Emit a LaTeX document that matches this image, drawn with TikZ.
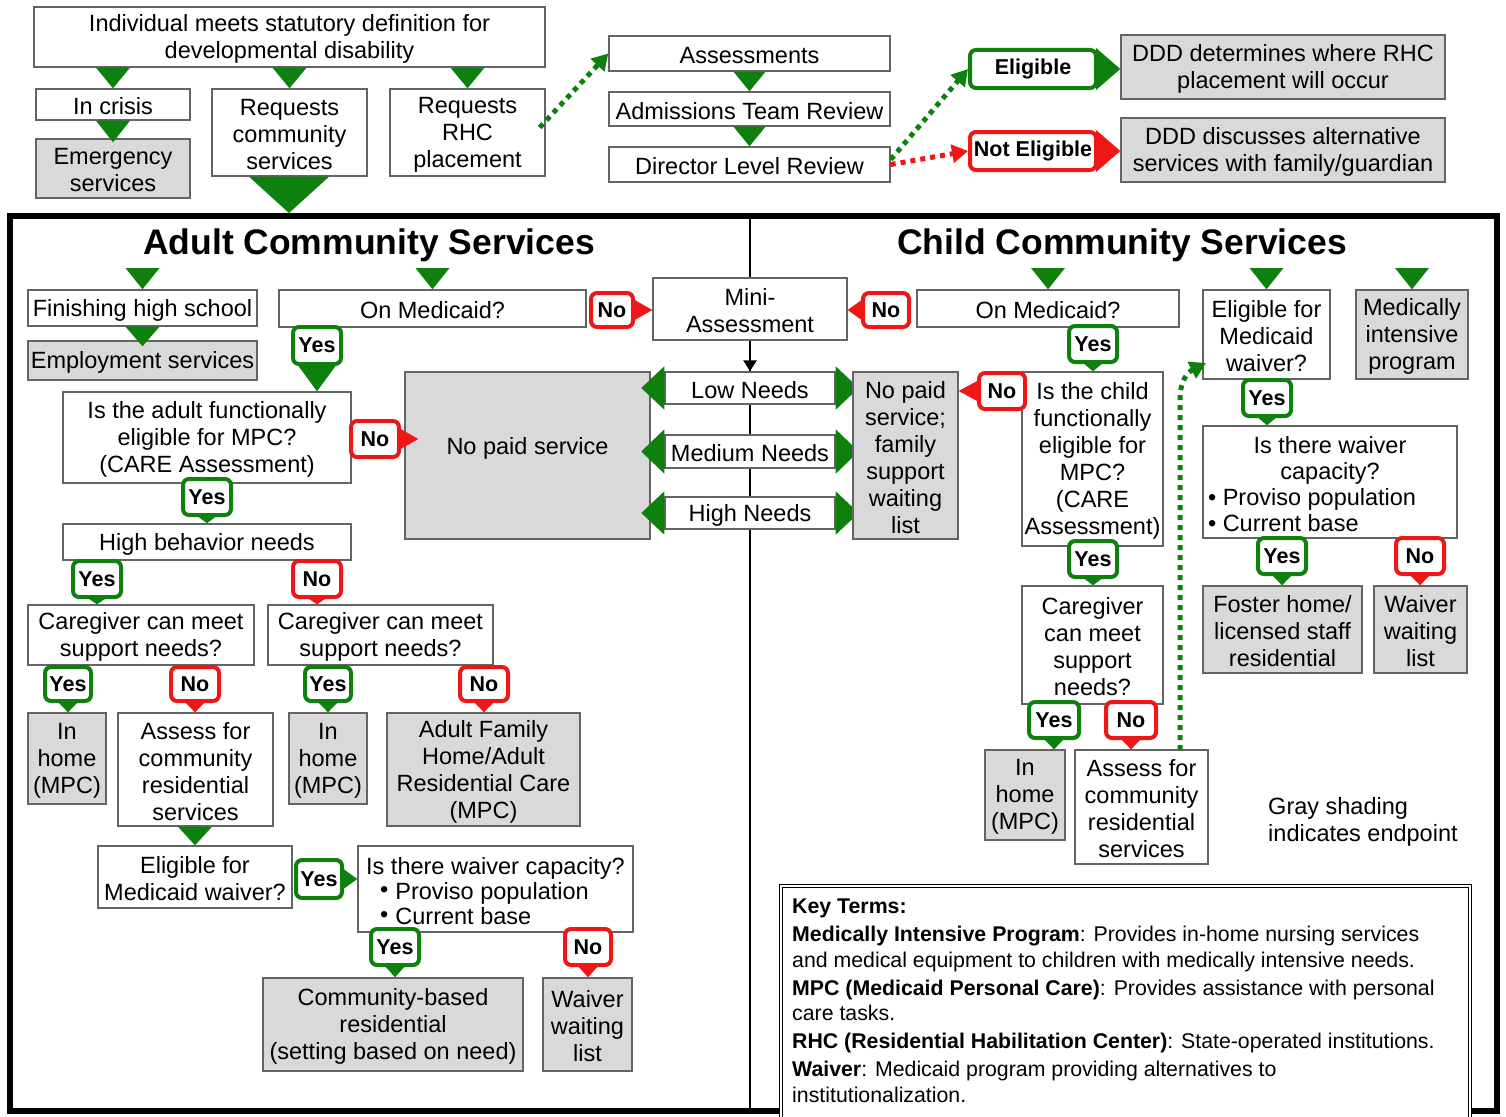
\documentclass[tikz,border=0pt]{standalone}
\usepackage{fontspec}
\setmainfont{Liberation Sans}
\usetikzlibrary{calc,arrows.meta}
\definecolor{gr}{RGB}{14,128,14}
\definecolor{rd}{RGB}{238,22,22}
\definecolor{shade}{RGB}{217,217,217}
\definecolor{bord}{RGB}{100,100,100}
\newcommand\fs{\fontsize{23.5}{27}\selectfont}
\newcommand\tagf{\bfseries\fontsize{21.5}{24}\selectfont}
\newcommand\ttlf{\bfseries\fontsize{35.5}{40}\selectfont}
\newcommand\kf{\fontsize{21.3}{25.5}\selectfont}
% box from corners (frame node + text node set slightly lower)
\newcommand\bx[7][]{\node[box,minimum width={#5-#3},minimum height={#6-#4},#1] (#2) at ({(#3+#5)/2},{(#4+#6)/2}) {};
 \node[box,#1,draw=none,fill=none,inner sep=0pt] (#2-t) at ($(#2.center)+(0,2)$) {#7};}
% tag from corners
\newcommand\tg[7][]{\node[box,minimum width={#5-#3},minimum height={#6-#4},#1] (#2) at ({(#3+#5)/2},{(#4+#6)/2}) {#7};}
% tag pointers: colour, tag, target, half width
\newcommand\pD[4]{\fill[#1] let \p1=(#2.south), \p2=(#3) in (\x1-#4,\y1+2pt) -- (\x1+#4,\y1+2pt) -- (\x1,\y2) -- cycle;}
\newcommand\pR[4]{\fill[#1] let \p1=(#2.east), \p2=(#3) in (\x1-2pt,\y1+#4) -- (\x1-2pt,\y1-#4) -- (\x2,\y1) -- cycle;}
\newcommand\pL[4]{\fill[#1] let \p1=(#2.west), \p2=(#3) in (\x1+2pt,\y1+#4) -- (\x1+2pt,\y1-#4) -- (\x2,\y1) -- cycle;}
% green down triangle: source (top y), target (tip), half width
\newcommand\dT[3]{\fill[gr] let \p1=(#1), \p2=(#2) in (\x2-#3,\y1) -- (\x2+#3,\y1) -- (\x2,\y2) -- cycle;}
% side triangles on needs boxes
\newcommand\sT[1]{%
 \fill[gr] let \p1=(#1.north west), \p2=(#1.south west) in (\x1,\y1+5pt) -- (\x1,\y2-5pt) -- (\x1-23pt,{0.5*\y1+0.5*\y2}) -- cycle;
 \fill[gr] let \p1=(#1.north east), \p2=(#1.south east) in (\x1,\y1+5pt) -- (\x1,\y2-5pt) -- (\x1+23pt,{0.5*\y1+0.5*\y2}) -- cycle;}
\begin{document}
\begin{tikzpicture}[x=1pt,y=-1pt,
 box/.style={draw=bord,line width=1.4pt,fill=white,align=center,inner sep=1pt,font=\fs},
 endbox/.style={fill=shade},
 ytag/.style={draw=gr,line width=4pt,rounded corners=6pt,fill=white,font=\tagf,inner sep=0pt},
 ntag/.style={ytag,draw=rd},
 dotg/.style={draw=gr,line width=5pt,dash pattern=on 5pt off 5pt,-{Triangle[length=16pt,width=18pt]}},
 dotr/.style={dotg,draw=rd}]
\useasboundingbox (0,0) rectangle (1506,1116);
\fill[white] (0,0) rectangle (1506,1116);
% frame
\draw[line width=6pt] (10,216) rectangle (1497,1111);
\draw[line width=2.5pt] (750,216) -- (750,1111);
% ---------- top ----------
\bx{top}{34}{7}{545}{67}{Individual meets statutory definition for\\developmental disability}
\bx{crisis}{36}{89}{190}{120}{In crisis}
\bx[endbox]{emerg}{36}{139}{190}{198}{Emergency\\services}
\bx{reqcom}{212}{89}{367}{176}{Requests\\community\\services}
\bx{reqrhc}{390}{89}{545}{176}{Requests\\RHC\\placement}
\bx{assess}{609}{36}{890}{71}{Assessments}
\bx{admit}{609}{92}{890}{126}{Admissions Team Review}
\bx{director}{609}{147}{890}{182}{Director Level Review}
\bx[endbox]{ddda}{1121}{35}{1445}{99}{DDD determines where RHC\\placement will occur}
\bx[endbox]{dddb}{1121}{118}{1445}{182}{DDD discusses alternative\\services with family/guardian}
\tg[ytag]{elig}{970}{50}{1096}{88}{Eligible}
\tg[ntag]{nelig}{970}{132}{1096}{170}{Not Eligible}
\pR{gr}{elig}{ddda.west}{21pt}
\pR{rd}{nelig}{dddb.west}{21pt}
\dT{top.south}{crisis.north}{17pt}
\dT{top.south}{reqcom.north}{17pt}
\dT{top.south}{reqrhc.north}{17pt}
\dT{crisis.south}{$(emerg.north)+(0,4)$}{17pt}
\coordinate (ftop) at (289,213);
\dT{reqcom.south}{ftop}{40pt}
\dT{assess.south}{admit.north}{16pt}
\dT{admit.south}{director.north}{16pt}
\draw[dotg] ($(reqrhc.east)+(-6,-5)$) -- (assess.west);
\draw[dotg] ($(director.east)+(0,-5)$) -- (elig.west);
\draw[dotr] (director.east) -- (nelig.west);
% ---------- titles ----------
\node[font=\ttlf] (atitle) at (369,245) {Adult Community Services};
\node[font=\ttlf] (ctitle) at (1122,245) {Child Community Services};
\coordinate (hdr) at (0,268);
% ---------- adult ----------
\bx{fhs}{28}{290}{257}{326}{Finishing high school}
\bx[endbox]{emp}{28}{341}{257}{380}{Employment services}
\bx{amed}{279}{290}{586}{327}{On Medicaid?}
\bx{mini}{653}{278}{847}{340}{Mini-\\Assessment}
\tg[ntag]{tA1}{591}{293}{633}{327}{No}
\tg[ytag]{tA2}{293}{327}{341}{364}{Yes}
\bx{aelig}{63}{392}{351}{483}{Is the adult functionally\\eligible for MPC?\\(CARE Assessment)}
\node[box,endbox,minimum width=245,minimum height=167] (nps) at (527.5,455.5) {};
\node[font=\fs,inner sep=0pt] (nps-t) at (527.5,448) {No paid service};
\tg[ntag]{tA3}{351}{421}{399}{457}{No}
\bx{low}{665}{372}{835}{404}{Low Needs}
\bx{med}{665}{435}{835}{468}{Medium Needs}
\bx{high}{665}{497}{835}{529}{High Needs}
\tg[ytag]{tA4}{183}{479}{231}{515}{Yes}
\bx{hbn}{63}{524}{351}{560}{High behavior needs}
\tg[ytag]{tA5}{73}{561}{121}{597}{Yes}
\tg[ntag]{tA6}{293}{561}{341}{597}{No}
\bx{cga}{28}{605}{254}{665}{Caregiver can meet\\support needs?}
\bx{cgb}{268}{605}{493}{665}{Caregiver can meet\\support needs?}
\tg[ytag]{tA7}{45}{667}{91}{701}{Yes}
\tg[ntag]{tA8}{171}{667}{219}{701}{No}
\tg[ytag]{tA9}{305}{667}{351}{701}{Yes}
\tg[ntag]{tA10}{460}{667}{508}{701}{No}
\bx[endbox]{iha}{28}{713}{106}{804}{In\\home\\(MPC)}
\bx{acra}{118}{713}{273}{826}{Assess for\\community\\residential\\services}
\bx[endbox]{ihb}{289}{713}{367}{804}{In\\home\\(MPC)}
\bx[endbox]{afh}{387}{713}{580}{826}{Adult Family\\Home/Adult\\Residential Care\\(MPC)}
\bx{emwa}{98}{846}{292}{908}{Eligible for\\Medicaid waiver?}
\tg[ytag]{tA11}{296}{860}{342}{898}{Yes}
\bx[align=left,font=\fontsize{23.5}{25}\selectfont]{wcapa}{358}{846}{633}{932}{Is there waiver capacity?\\\hspace*{14pt}\raisebox{2pt}{\textbullet}\hspace{7pt}Proviso population\\\hspace*{14pt}\raisebox{2pt}{\textbullet}\hspace{7pt}Current base}
\tg[ytag]{tA12}{371}{929}{419}{965}{Yes}
\tg[ntag]{tA13}{565}{929}{611}{965}{No}
\bx[endbox]{cbr}{263}{978}{523}{1071}{Community-based\\residential\\(setting based on need)}
\bx[endbox]{wwla}{543}{978}{632}{1071}{Waiver\\waiting\\list}
\dT{hdr}{fhs.north}{17pt}
\dT{hdr}{amed.north}{17pt}
\dT{fhs.south}{$(emp.north)+(0,6)$}{17pt}
\dT{acra.south}{emwa.north}{17pt}
\draw[line width=2.5pt,-{Triangle[length=11pt,width=13pt]}] (mini.south) -- (low.north);
\sT{low}\sT{med}\sT{high}
\pR{rd}{tA1}{mini.west}{11pt}
\pD{gr}{tA2}{aelig.north}{20pt}
\pR{rd}{tA3}{$(nps.west)+(14,0)$}{11pt}
\pD{gr}{tA4}{hbn.north}{11pt}
\pD{gr}{tA5}{cga.north}{11pt}
\pD{rd}{tA6}{cgb.north}{11pt}
\pD{gr}{tA7}{iha.north}{11pt}
\pD{rd}{tA8}{acra.north}{11pt}
\pD{gr}{tA9}{ihb.north}{11pt}
\pD{rd}{tA10}{afh.north}{11pt}
\pR{gr}{tA11}{wcapa.west}{11pt}
\pD{gr}{tA12}{cbr.north}{11pt}
\pD{rd}{tA13}{wwla.north}{11pt}
% ---------- child ----------
\bx{cmed}{917}{290}{1179}{327}{On Medicaid?}
\tg[ntag]{tC1}{863}{293}{909}{327}{No}
\tg[ytag]{tC2}{1069}{326}{1117}{362}{Yes}
\bx[endbox]{cnps}{853}{372}{958}{539}{No paid\\service;\\family\\support\\waiting\\list}
\bx{celig}{1022}{372}{1163}{546}{Is the child\\functionally\\eligible for\\MPC?\\(CARE\\Assessment)}
\tg[ntag]{tC3}{979}{373}{1025}{409}{No}
\tg[ytag]{tC4}{1069}{541}{1117}{577}{Yes}
\bx{ccg}{1022}{586}{1163}{704}{Caregiver\\can meet\\support\\needs?}
\tg[ytag]{tC5}{1029}{702}{1079}{738}{Yes}
\tg[ntag]{tC6}{1106}{702}{1156}{738}{No}
\bx[endbox]{cih}{985}{750}{1065}{840}{In\\home\\(MPC)}
\bx{cacr}{1075}{750}{1208}{864}{Assess for\\community\\residential\\services}
\bx{cemw}{1203}{290}{1330}{379}{Eligible for\\Medicaid\\waiver?}
\bx[endbox]{mip}{1356}{290}{1468}{379}{Medically\\intensive\\program}
\tg[ytag]{tC7}{1243}{380}{1291}{416}{Yes}
\bx[font=\fontsize{23.5}{26}\selectfont]{cwcap}{1203}{426}{1457}{538}{\parbox{244pt}{\centering Is there waiver\\capacity?\par\raggedright\textbullet\ Proviso population\\\textbullet\ Current base}}
\tg[ytag]{tC8}{1258}{538}{1306}{574}{Yes}
\tg[ntag]{tC9}{1396}{538}{1444}{574}{No}
\bx[endbox]{foster}{1203}{586}{1362}{673}{Foster home/\\licensed staff\\residential}
\bx[endbox]{wwlb}{1374}{586}{1467}{673}{Waiver\\waiting\\list}
\node[font=\fs,align=left,anchor=north west,inner sep=0pt] (note) at (1268,797) {Gray shading\\indicates endpoint};
\dT{hdr}{cmed.north}{17pt}
\dT{hdr}{cemw.north}{17pt}
\dT{hdr}{mip.north}{17pt}
\pL{rd}{tC1}{mini.east}{11pt}
\pD{gr}{tC2}{celig.north}{11pt}
\pL{rd}{tC3}{cnps.east}{11pt}
\pD{gr}{tC4}{ccg.north}{11pt}
\pD{gr}{tC5}{cih.north}{11pt}
\pD{rd}{tC6}{cacr.north}{11pt}
\pD{gr}{tC7}{cwcap.north}{11pt}
\pD{gr}{tC8}{foster.north}{11pt}
\pD{rd}{tC9}{wwlb.north}{11pt}
\coordinate (cst) at (1180,750);
\coordinate (ctip) at (1206,363);
\draw[dotg] (cst) -- (1180,400) .. controls (1180,380) and (1188,372) .. (ctip);
% ---------- key ----------
\node[draw=black,double,double distance=2.5pt,line width=1pt,fill=white,minimum width=689,minimum height=244] (key) at (1125.5,1008) {};
\node[font=\kf,align=left,anchor=north west,inner sep=0pt] (keytxt) at (792,899) {\textbf{Key Terms:}\\[2.5pt]
\textbf{Medically Intensive Program}: Provides in-home nursing services\\
and medical equipment to children with medically intensive needs.\\[2.5pt]
\textbf{MPC (Medicaid Personal Care)}: Provides assistance with personal\\
care tasks.\\[2.5pt]
\textbf{RHC (Residential Habilitation Center)}: State-operated institutions.\\[2.5pt]
\textbf{Waiver}: Medicaid program providing alternatives to\\
institutionalization.};
\end{tikzpicture}
\end{document}
